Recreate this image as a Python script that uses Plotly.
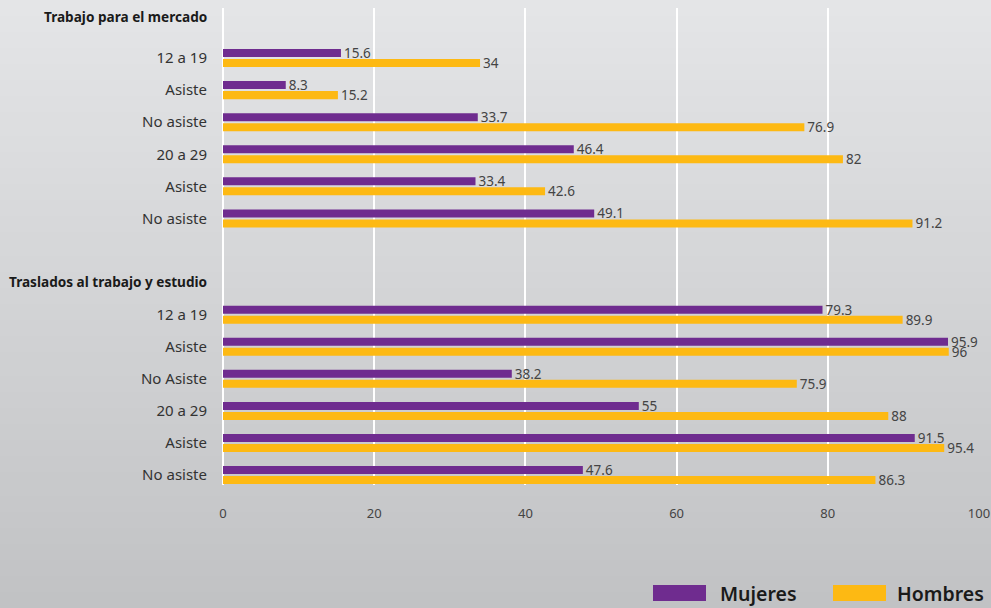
import plotly.graph_objects as go

# ---- data ----
section_titles = ["Trabajo para el mercado", "Traslados al trabajo y estudio"]
labels_trabajo = ["12 a 19", "Asiste", "No asiste", "20 a 29", "Asiste", "No asiste"]
mujeres_trabajo = [15.6, 8.3, 33.7, 46.4, 33.4, 49.1]
hombres_trabajo = [34, 15.2, 76.9, 82, 42.6, 91.2]
labels_traslados = ["12 a 19", "Asiste", "No Asiste", "20 a 29", "Asiste", "No asiste"]
mujeres_traslados = [79.3, 95.9, 38.2, 55, 91.5, 47.6]
hombres_traslados = [89.9, 96, 75.9, 88, 95.4, 86.3]
x_ticks = [0, 20, 40, 60, 80, 100]
series_names = ["Mujeres", "Hombres"]
colors = ["#6f2c8f", "#fdb913"]

# row layout: header, 6 rows, blank, header, 6 rows
y1 = [1 + i for i in range(len(labels_trabajo))]
y2 = [9 + i for i in range(len(labels_traslados))]
ys = y1 + y2
labels = labels_trabajo + labels_traslados
muj = mujeres_trabajo + mujeres_traslados
hom = hombres_trabajo + hombres_traslados

W, H = 991, 608
ML, MR, MT, MB = 223, 12, 8, 123

fig = go.Figure()
for name, vals, col in zip(series_names, [muj, hom], colors):
    fig.add_trace(go.Bar(
        x=vals, y=ys, orientation="h", name=name,
        marker=dict(color=col, line=dict(width=0)),
        text=[f"{v:g}" for v in vals], textposition="outside",
        textfont=dict(family="Noto Sans", size=13.5, color="#444444"),
        constraintext="none", cliponaxis=False, showlegend=False,
    ))

# background gradient strips (figure-wide)
shapes = []
top = (228, 229, 231)
bot = (193, 194, 196)
n = 76
pw = W - ML - MR
ph = H - MT - MB
def px_to_paper_x(px):
    return (px - ML) / pw
def px_to_paper_y(py):
    return (H - MB - py) / ph
for i in range(n):
    t = i / (n - 1)
    c = tuple(round(top[k] + (bot[k] - top[k]) * t) for k in range(3))
    y0p = i * H / n
    y1p = (i + 1) * H / n + 0.5
    shapes.append(dict(type="rect", xref="paper", yref="paper",
                       x0=px_to_paper_x(0), x1=px_to_paper_x(W),
                       y0=px_to_paper_y(y1p), y1=px_to_paper_y(y0p),
                       fillcolor="rgb(%d,%d,%d)" % c, line=dict(width=0), layer="below"))

# legend swatches
annotations = []
legend_items = [(653, 706, 718), (833, 886, 895)]
for (sx0, sx1, tx), name, col in zip(legend_items, series_names, colors):
    shapes.append(dict(type="rect", xref="paper", yref="paper",
                       x0=px_to_paper_x(sx0), x1=px_to_paper_x(sx1),
                       y0=px_to_paper_y(601), y1=px_to_paper_y(585),
                       fillcolor=col, line=dict(width=0)))
    annotations.append(dict(xref="paper", yref="paper", x=px_to_paper_x(tx), y=px_to_paper_y(593),
                            text=name, showarrow=False, xanchor="left", yanchor="middle",
                            font=dict(family="Noto Sans", size=19.5, color="#1a1a1a", weight=600)))

# section headers
for title, yrow, shift in zip(section_titles, [0, 8], [9, 1]):
    annotations.append(dict(xref="paper", yref="y", x=0, y=yrow, xshift=-14, yshift=shift,
                            text="<b>%s</b>" % title, showarrow=False,
                            xanchor="right", yanchor="middle",
                            font=dict(family="Noto Sans", size=13.6, color="#1a1a1a")))

fig.update_layout(
    width=W, height=H,
    margin=dict(l=ML, r=MR, t=MT, b=MB, pad=0, autoexpand=False),
    paper_bgcolor="rgb(210,211,213)",
    plot_bgcolor="rgba(0,0,0,0)",
    barmode="group", bargap=0.376, bargroupgap=0.2,
    shapes=shapes, annotations=annotations,
    showlegend=False,
)
fig.update_xaxes(range=[0, 100], tickvals=x_ticks, showgrid=True, gridcolor="white", gridwidth=2,
                 zeroline=True, zerolinecolor="white", zerolinewidth=2, showline=False,
                 ticks="outside", ticklen=16, tickcolor="rgba(0,0,0,0)", automargin=False,
                 tickfont=dict(family="Noto Sans", size=13, color="#444444"))
fig.update_yaxes(range=[14.31, -0.56], tickvals=ys, ticktext=labels, showgrid=False, zeroline=False,
                 showline=False, ticks="outside", ticklen=12, tickcolor="rgba(0,0,0,0)", automargin=False,
                 tickfont=dict(family="Noto Sans", size=15, color="#333333"))

fig.write_html("out.html", config={"displayModeBar": False},
               post_script="document.body.style.margin='0';document.body.style.overflow='hidden';")
